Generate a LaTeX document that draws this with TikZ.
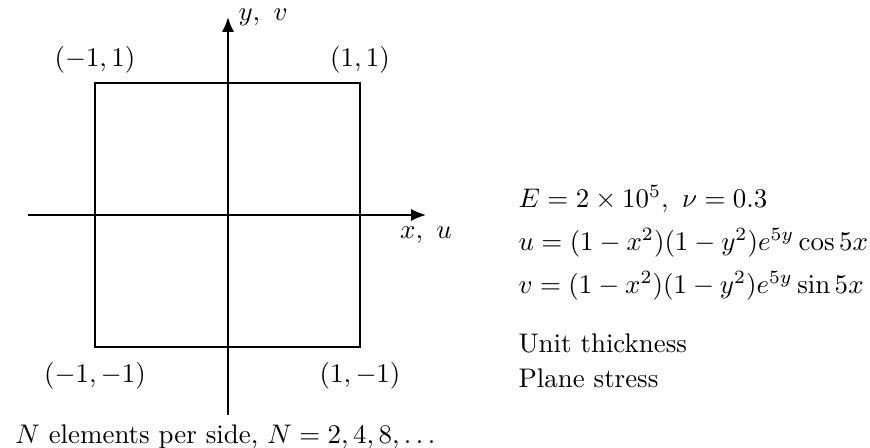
\documentclass[tikz,border=0pt]{standalone}
\usetikzlibrary{arrows.meta}
\begin{document}
\begin{tikzpicture}[x=0.3717pt,y=-0.3717pt,
  axis/.style={line width=0.75pt,-{Latex[length=5.5pt,width=4.5pt]}},
  plate/.style={line width=1.1pt},
  txt/.style={anchor=base west,inner sep=0pt}]
\useasboundingbox (0,0) rectangle (870,447);
\coordinate (c1) at (95,347);
\coordinate (c2) at (360,347);
\coordinate (c3) at (360,83);
\coordinate (c4) at (95,83);
\draw[plate] (c1) -- (c2) -- (c3) -- (c4) -- cycle;
\coordinate (xs) at (28,215);
\coordinate (xe) at (426,215);
\coordinate (ys) at (228,415);
\coordinate (ye) at (228,17);
\draw[axis] (xs) -- (xe);
\draw[axis] (ys) -- (ye);
\node[txt] (ylab) at (238,21) {$y,\ v$};
\node[below,yshift=-1pt] (xlab) at (xe) {$x,\ u$};
\node[above] (l4) at (c4) {$(-1,1)$};
\node[above] (l3) at (c3) {$(1,1)$};
\node[below,yshift=-2pt] (l1) at (c1) {$(-1,-1)$};
\node[below,yshift=-2pt] (l2) at (c2) {$(1,-1)$};
\node[below,xshift=-1pt] (nlab) at (ys) {$N$ elements per side, $N=2,4,8,\ldots$};
\node[txt] (t1) at (518,207) {$E=2\times10^5,\ \nu=0.3$};
\node[txt] (t2) at (518,250) {$u=(1-x^2)(1-y^2)e^{5y}\cos5x$};
\node[txt] (t3) at (518,293) {$v=(1-x^2)(1-y^2)e^{5y}\sin5x$};
\node[txt] (t4) at (518,352) {Unit thickness};
\node[txt] (t5) at (518,387) {Plane stress};
\end{tikzpicture}
\end{document}
